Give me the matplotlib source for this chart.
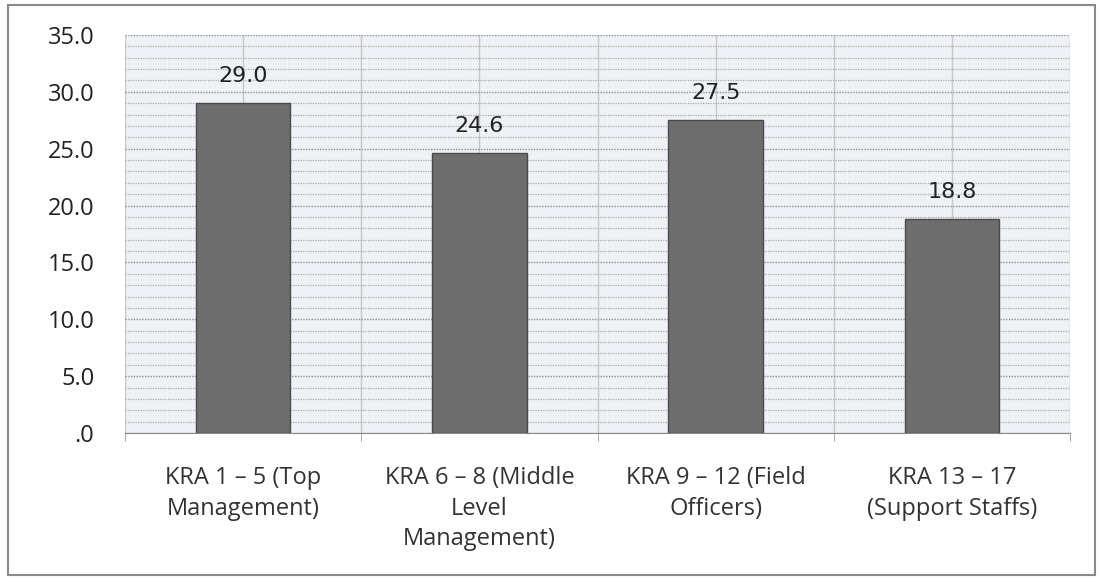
import matplotlib.pyplot as plt
from matplotlib.patches import Rectangle
from matplotlib.ticker import MultipleLocator, FixedLocator

categories = ["KRA 1 \u2013 5 (Top\nManagement)",
              "KRA 6 \u2013 8 (Middle\nLevel\nManagement)",
              "KRA 9 \u2013 12 (Field\nOfficers)",
              "KRA 13 \u2013 17\n(Support Staffs)"]
values = [29.0, 24.6, 27.5, 18.8]
yticks = [0, 5, 10, 15, 20, 25, 30, 35]
ytick_labels = [".0", "5.0", "10.0", "15.0", "20.0", "25.0", "30.0", "35.0"]

fig = plt.figure(figsize=(11.01, 5.80), dpi=100)
fig.patch.set_facecolor("white")
# outer border of the chart box
fig.add_artist(Rectangle((0.007, 0.008), 0.988, 0.984, transform=fig.transFigure,
                         fill=False, edgecolor="#8a8a8a", lw=1.5))

ax = fig.add_axes([0.1135, 0.2534, 0.8585, 0.6863])
ax.set_facecolor("#eef2f6")

x = range(len(values))
ax.bar(x, values, width=0.4, color="#6e6e6e", edgecolor="#4a4a4a", lw=1, zorder=3)

for i, v in enumerate(values):
    ax.text(i, v + 1.9, f"{v:.1f}", ha="center", va="baseline", fontsize=16,
            color="#222222", family="DejaVu Sans", zorder=4)

ax.set_xlim(-0.5, len(values) - 0.5)
ax.set_ylim(0, 35)
ax.set_yticks(yticks)
ax.set_yticklabels(ytick_labels)
ax.yaxis.set_minor_locator(MultipleLocator(1))
ax.set_xticks(list(x))
ax.set_xticklabels(categories)
ax.xaxis.set_minor_locator(FixedLocator([i - 0.5 for i in range(len(values) + 1)]))

# grid lines
ax.grid(which="major", axis="y", color="#8f8f8f", lw=1.0, ls=(0, (1, 1)), zorder=1)
ax.grid(which="minor", axis="y", color="#a8a8a8", lw=0.9, ls=(0, (1, 1)), zorder=1)
ax.grid(which="major", axis="x", color="#c8c8c8", lw=1.0, zorder=1)
ax.grid(which="minor", axis="x", color="#c8c8c8", lw=1.0, zorder=1)

for s in ["top", "right", "left"]:
    ax.spines[s].set_visible(False)
ax.spines["bottom"].set_color("#888888")

ax.tick_params(axis="y", which="both", length=0, labelsize=17, labelcolor="#222222", pad=22)
ax.tick_params(axis="x", which="major", length=0, labelsize=17, labelcolor="#333333", pad=24)
ax.tick_params(axis="x", which="minor", length=6, color="#999999")
for lab in ax.get_xticklabels() + ax.get_yticklabels():
    lab.set_family("Open Sans")
for lab in ax.get_xticklabels():
    lab.set_linespacing(1.35)

fig.savefig("out.png", dpi=100)
